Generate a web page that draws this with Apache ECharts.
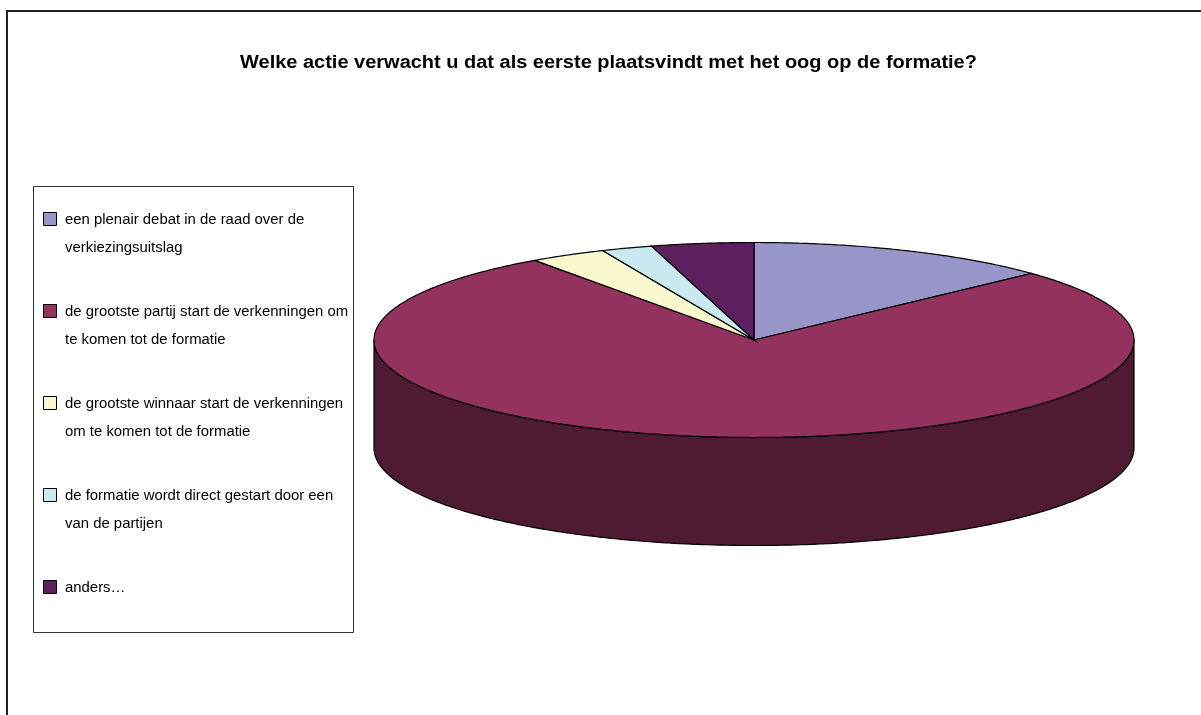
<!DOCTYPE html>
<html>
<head>
<meta charset="utf-8">
<script src="https://cdn.jsdelivr.net/npm/echarts@6/dist/echarts.min.js"></script>
<style>
html,body{margin:0;padding:0;background:#fff;}
#chart{width:1201px;height:715px;}
</style>
</head>
<body>
<div id="chart"></div>
<script>
const titleText = 'Welke actie verwacht u dat als eerste plaatsvindt met het oog op de formatie?';
const categories = [
  'een plenair debat in de raad over de verkiezingsuitslag',
  'de grootste partij start de verkenningen om te komen tot de formatie',
  'de grootste winnaar start de verkenningen om te komen tot de formatie',
  'de formatie wordt direct gestart door een van de partijen',
  'anders…'
];
const values = [12, 71, 3, 2, 4];
const colors = ['#9896C8', '#93325E', '#FAF8CF', '#CBE9F0', '#5E1F5E'];

const FONT = '"Liberation Sans", Arial, sans-serif';
const DEPTH = 1.108; // side height relative to vertical radius
const total = values.reduce((a, b) => a + b, 0);
const starts = [];
let acc = 0;
values.forEach(v => { starts.push(acc); acc += v; });

function darken(hex, f) {
  const n = parseInt(hex.slice(1), 16);
  const r = Math.round(((n >> 16) & 255) * f);
  const g = Math.round(((n >> 8) & 255) * f);
  const b = Math.round((n & 255) * f);
  return 'rgb(' + r + ',' + g + ',' + b + ')';
}

function arcPts(api, a, b, dy, step) {
  const pts = [];
  const n = Math.max(2, Math.ceil(Math.abs(b - a) / step));
  for (let k = 0; k <= n; k++) {
    const t = a + (b - a) * k / n;
    pts.push(api.coord([Math.sin(t), Math.cos(t) + dy]));
  }
  return pts;
}

function renderItem(params, api) {
  const i = params.dataIndex;
  const v = api.value(2);
  const a = starts[i] / total * Math.PI * 2;
  const b = (starts[i] + v) / total * Math.PI * 2;
  const step = Math.PI / 360;
  const children = [];
  const color = colors[i];
  const s = Math.max(a, Math.PI / 2), e = Math.min(b, Math.PI * 1.5);
  if (s < e) {
    const top = arcPts(api, s, e, 0, step);
    const bot = arcPts(api, e, s, -DEPTH, step);
    children.push({
      type: 'polygon', z2: 1,
      shape: { points: top.concat(bot) },
      style: { fill: darken(color, 0.53), stroke: '#000', lineWidth: 1.2 }
    });
  }
  const c = api.coord([0, 0]);
  children.push({
    type: 'polygon', z2: 10,
    shape: { points: [c].concat(arcPts(api, a, b, 0, step)) },
    style: { fill: color, stroke: '#000', lineWidth: 1.2 }
  });
  return { type: 'group', children };
}

const legendGraphics = [{
  type: 'rect', shape: { x: 33.5, y: 186.5, width: 320, height: 446 },
  style: { fill: '#fff', stroke: '#333', lineWidth: 1 }, z: 5
}];
categories.forEach((name, i) => {
  legendGraphics.push({
    type: 'rect', shape: { x: 43.5, y: 212.5 + i * 92, width: 13, height: 13 },
    style: { fill: colors[i], stroke: '#000', lineWidth: 1 }, z: 6
  });
  legendGraphics.push({
    type: 'text', x: 65, y: 206 + i * 92, z: 6,
    style: { text: name, width: 290, overflow: 'break', lineHeight: 28,
      font: '14.9px ' + FONT, fill: '#000' }
  });
});

const chart = echarts.init(document.getElementById('chart'));
chart.setOption({
  animation: false,
  backgroundColor: '#fff',
  grid: { left: 374, top: 242.5, width: 760, height: 303 },
  xAxis: { type: 'value', min: -1, max: 1, show: false },
  yAxis: { type: 'value', min: -1 - DEPTH, max: 1, show: false },
  series: [{
    type: 'custom',
    renderItem: renderItem,
    data: values.map((v, i) => [0, 0, v, i]),
    encode: { x: 0, y: 1 }
  }],
  graphic: [{
    type: 'rect', shape: { x: 7, y: 11, width: 1400, height: 900 },
    style: { fill: 'none', stroke: '#222', lineWidth: 2 }, z: 0, silent: true
  }, {
    type: 'text', x: 608.5, y: 63, scaleX: 1.11, z: 6,
    style: { text: titleText, font: 'bold 18px ' + FONT, fill: '#000',
      align: 'center', verticalAlign: 'middle' }
  }].concat(legendGraphics)
});
</script>
</body>
</html>
